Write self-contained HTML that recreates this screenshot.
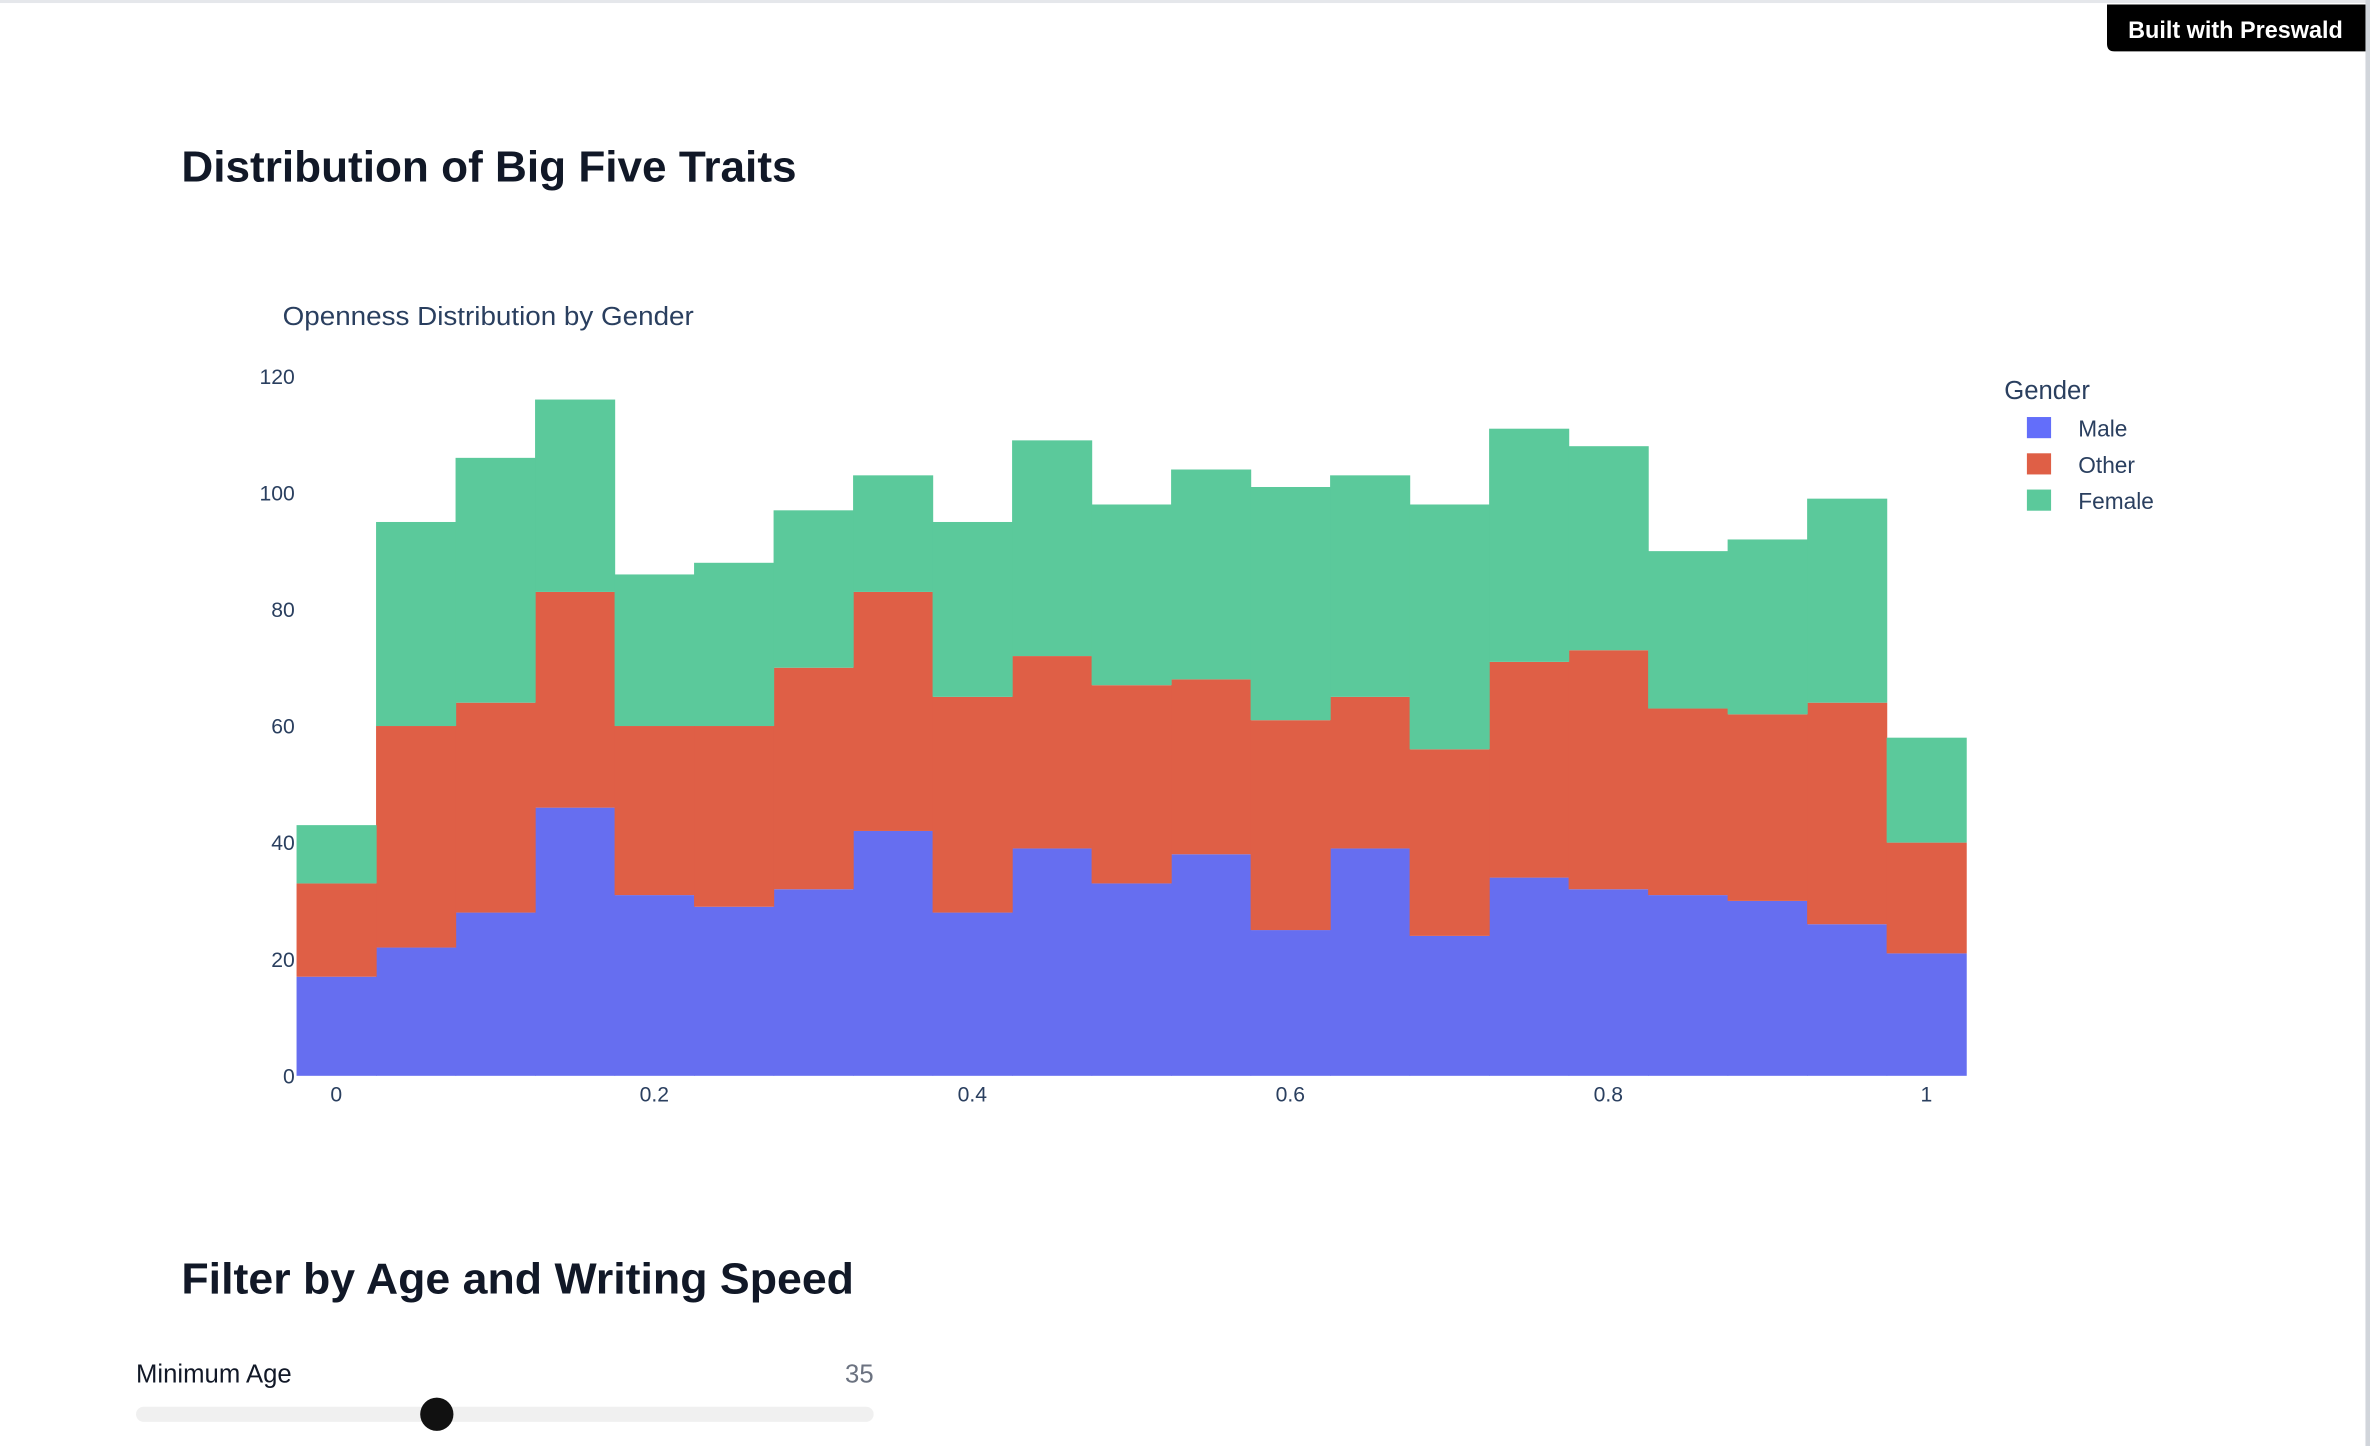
<!DOCTYPE html>
<html><head><meta charset="utf-8"><style>
html,body{margin:0;padding:0;background:#fff;width:2370px;height:1446px;overflow:hidden}
svg{display:block;font-family:"Liberation Sans",sans-serif}
</style></head><body>
<svg id="s" width="2370" height="1446" viewBox="0 0 1568 957" preserveAspectRatio="none">
<rect x="0" y="0" width="1568" height="2" fill="#e5e7eb"/>
<rect x="1565" y="0" width="3" height="957" fill="#d1d5db"/>
<g>
<path d="M1394 3 H1565 V34 H1399 Q1394 34 1394 29 Z" fill="#000"/>
<text x="1408" y="25" fill="#fff" font-size="16" font-weight="bold" textLength="142" lengthAdjust="spacingAndGlyphs">Built with Preswald</text>
</g>
<text x="120" y="120" font-size="29" font-weight="bold" fill="#111827" textLength="407" lengthAdjust="spacingAndGlyphs">Distribution of Big Five Traits</text>
<text x="187" y="215" font-size="17" fill="#2a3f5f" textLength="272" lengthAdjust="spacingAndGlyphs">Openness Distribution by Gender</text>
<g id="plot"></g>
<g id="yt"></g>
<g id="xt"></g>
<g>
<text x="1326" y="264" font-size="17" fill="#2a3f5f">Gender</text>
<g><rect x="1341" y="276" width="16" height="14" fill="#636efa"/><text x="1375" y="289" font-size="15" fill="#2a3f5f">Male</text></g>
<g><rect x="1341" y="300" width="16" height="14" fill="#df5f46"/><text x="1375" y="313" font-size="15" fill="#2a3f5f">Other</text></g>
<g><rect x="1341" y="324" width="16" height="14" fill="#5bc99b"/><text x="1375" y="337" font-size="15" fill="#2a3f5f">Female</text></g>
</g>
<text x="120" y="856" font-size="29" font-weight="bold" fill="#111827" textLength="445" lengthAdjust="spacingAndGlyphs">Filter by Age and Writing Speed</text>
<text x="90" y="915" font-size="17" fill="#111827">Minimum Age</text>
<text x="578" y="915" font-size="17" fill="#6b7280" text-anchor="end">35</text>
<rect x="90" y="931" width="488" height="10" rx="5" fill="#f0f0f0"/>
<circle cx="289" cy="936" r="11" fill="#111"/>
</svg>
<script>
const binCenters=[0,0.05,0.1,0.15,0.2,0.25,0.3,0.35,0.4,0.45,0.5,0.55,0.6,0.65,0.7,0.75,0.8,0.85,0.9,0.95,1.0];
const male=[17,22,28,46,31,29,32,42,28,39,33,38,25,39,24,34,32,31,30,26,21];
const other=[16,38,36,37,29,31,38,41,37,33,34,30,36,26,32,37,41,32,32,38,19];
const female=[10,35,42,33,26,28,27,20,30,37,31,36,40,38,42,40,35,27,30,35,18];
const yTicks=[0,20,40,60,80,100,120];
const xTicks=[0,0.2,0.4,0.6,0.8,1];
const binWidth=0.05;
const NS="http://www.w3.org/2000/svg";
const X=v=>222.5+v*1052;
const Y=v=>712-v*(463/120);
const plot=document.getElementById('plot');
const series=[["male",male,"#666ef0"],["other",other,"#df5f46"],["female",female,"#5bc99b"]];
const base=binCenters.map(()=>0);
series.forEach(([nm,vals,col])=>{
  vals.forEach((v,i)=>{
    const r=document.createElementNS(NS,'rect');
    const x0=X(binCenters[i]-binWidth/2),x1=X(binCenters[i]+binWidth/2);
    r.setAttribute('x',x0);r.setAttribute('width',x1-x0+0.4);
    r.setAttribute('y',Y(base[i]+v));r.setAttribute('height',Y(base[i])-Y(base[i]+v));
    r.setAttribute('fill',col);
    
    
    plot.appendChild(r);
    base[i]+=v;
  });
});
const yt=document.getElementById('yt');
yTicks.forEach(t=>{
  const e=document.createElementNS(NS,'text');
  e.setAttribute('x',195);e.setAttribute('y',Y(t)+5);e.setAttribute('text-anchor','end');
  e.setAttribute('font-size','14');e.setAttribute('fill','#2a3f5f');e.textContent=t;
  
  
  yt.appendChild(e);
});
const xt=document.getElementById('xt');
xTicks.forEach(t=>{
  const e=document.createElementNS(NS,'text');
  e.setAttribute('x',X(t));e.setAttribute('y',729);e.setAttribute('text-anchor','middle');
  e.setAttribute('font-size','14');e.setAttribute('fill','#2a3f5f');e.textContent=t;
  
  
  xt.appendChild(e);
});
</script>
</body></html>
